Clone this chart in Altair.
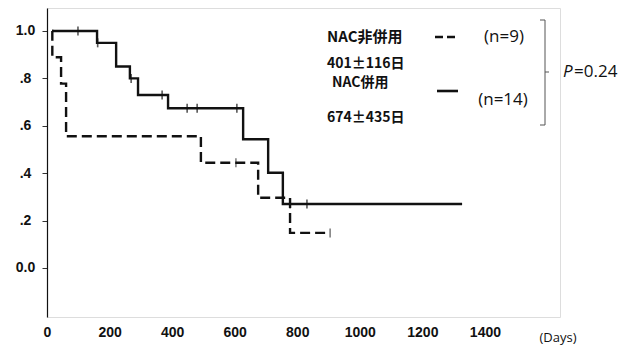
import altair as alt
import pandas as pd

# ---- data ----
solid_t = [16, 160, 221, 265, 291, 387, 627, 707, 754, 1327]
solid_s = [1.0, 0.95, 0.85, 0.80, 0.73, 0.674, 0.543, 0.402, 0.27, 0.27]
solid_cens_t = [99, 162, 269, 368, 448, 480, 607, 777, 831]
solid_cens_s = [1.0, 0.95, 0.80, 0.73, 0.674, 0.674, 0.674, 0.27, 0.27]

dashed_t = [16, 17, 45, 61, 492, 675, 777, 905]
dashed_s = [1.0, 0.889, 0.778, 0.556, 0.444, 0.296, 0.148, 0.148]
dashed_cens_t = [604, 905]
dashed_cens_s = [0.444, 0.148]

x_ticks = [0, 200, 400, 600, 800, 1000, 1200, 1400]
y_ticks = [0, 0.2, 0.4, 0.6, 0.8, 1.0]

lbl_group1 = "NAC非併用"
lbl_mean1 = "401±116日"
lbl_group2 = "NAC併用"
lbl_mean2 = "674±435日"
lbl_n1 = "(n=9)"
lbl_n2 = "(n=14)"
lbl_p_italic = "P"
lbl_p_value = "=0.24"
lbl_days = "(Days)"

W, H = 513, 309
xs = alt.Scale(domain=[0, 1640], nice=False, zero=False)
ys = alt.Scale(domain=[-0.207, 1.097], nice=False, zero=False)

solid_df = pd.DataFrame({"t": solid_t, "s": solid_s})
dashed_df = pd.DataFrame({"t": dashed_t, "s": dashed_s})
solid_c = pd.DataFrame({"t": solid_cens_t, "s": solid_cens_s})
dashed_c = pd.DataFrame({"t": dashed_cens_t, "s": dashed_cens_s})

xenc = alt.X("t:Q", scale=xs, axis=alt.Axis(
    values=x_ticks, format="d", ticks=False, domain=False, grid=False, title=None,
    labelFont="Liberation Sans", labelFontWeight="bold", labelFontSize=14,
    labelColor="#111", labelPadding=8, labelFlush=False))
yenc = alt.Y("s:Q", scale=ys, axis=alt.Axis(
    values=y_ticks, grid=False, title=None, domain=True, domainColor="#111",
    domainWidth=1.2, tickColor="#333", tickSize=5,
    labelExpr="datum.value == 0 ? '0.0' : datum.value == 1 ? '1.0' : '.' + round(datum.value*10)",
    labelFont="Liberation Sans", labelFontWeight="bold", labelFontSize=14,
    labelColor="#111", labelAlign="center", labelPadding=17, labelFlush=False))

solid_line = alt.Chart(solid_df).mark_line(
    interpolate="step-after", color="#111", strokeWidth=2.4).encode(x=xenc, y=yenc)
dashed_line = alt.Chart(dashed_df).mark_line(
    interpolate="step-after", color="#111", strokeWidth=2.4,
    strokeDash=[10, 5]).encode(x="t:Q", y="s:Q")
solid_ticks = alt.Chart(solid_c).mark_tick(
    orient="vertical", color="#111", thickness=1.6, size=9).encode(x="t:Q", y="s:Q")
dashed_ticks = alt.Chart(dashed_c).mark_tick(
    orient="vertical", color="#111", thickness=1.2, size=9).encode(x="t:Q", y="s:Q")


def txt(s, x, y, size, weight="normal", font="Noto Sans CJK JP", align="left",
        style="normal"):
    return alt.Chart(pd.DataFrame({"label": [s]})).mark_text(
        align=align, baseline="middle", fontSize=size, fontWeight=weight,
        font=font, fontStyle=style, color="#111").encode(
        x=alt.value(x), y=alt.value(y), text="label:N")


def rule(x1, x2, y1, y2, width=1.0, dash=None, color="#555"):
    kw = dict(color=color, strokeWidth=width)
    if dash:
        kw["strokeDash"] = dash
    return alt.Chart(pd.DataFrame({"a": [0]})).mark_rule(**kw).encode(
        x=alt.value(x1), x2=alt.value(x2), y=alt.value(y1), y2=alt.value(y2))


annot = [
    txt(lbl_group1, 280, 29, 15, "bold"),
    txt(lbl_mean1, 280, 56, 14, "bold"),
    txt(lbl_group2, 285, 75, 14, "bold"),
    txt(lbl_mean2, 280, 110, 14, "bold"),
    txt(lbl_n1, 457, 29, 17, font="Open Sans", align="center"),
    txt(lbl_n2, 456, 92, 17, font="Open Sans", align="center"),
    rule(388, 410, 29, 29, 2.5, [8, 4], "#111"),
    rule(390, 411, 83, 83, 2.6, None, "#111"),
    rule(498, 498, 12, 117),
    rule(493, 498, 12, 12),
    rule(493, 498, 117, 117),
    rule(498, 502, 64, 64),
    txt(lbl_p_italic, 516, 64, 17, font="Open Sans", style="italic"),
    txt(lbl_p_value, 527, 64, 17, font="Open Sans"),
    txt(lbl_days, 511, 330, 13, font="Open Sans", align="center"),
]

chart = alt.layer(solid_line, dashed_line, solid_ticks, dashed_ticks, *annot).properties(
    width=W, height=H,
    autosize=alt.AutoSizeParams(type="none"),
    padding={"left": 47, "top": 8, "right": 60, "bottom": 29},
).configure_view(stroke="#777", strokeWidth=1).configure(background="white")

chart.save("out.html", embed_options={"renderer": "svg", "actions": False})
